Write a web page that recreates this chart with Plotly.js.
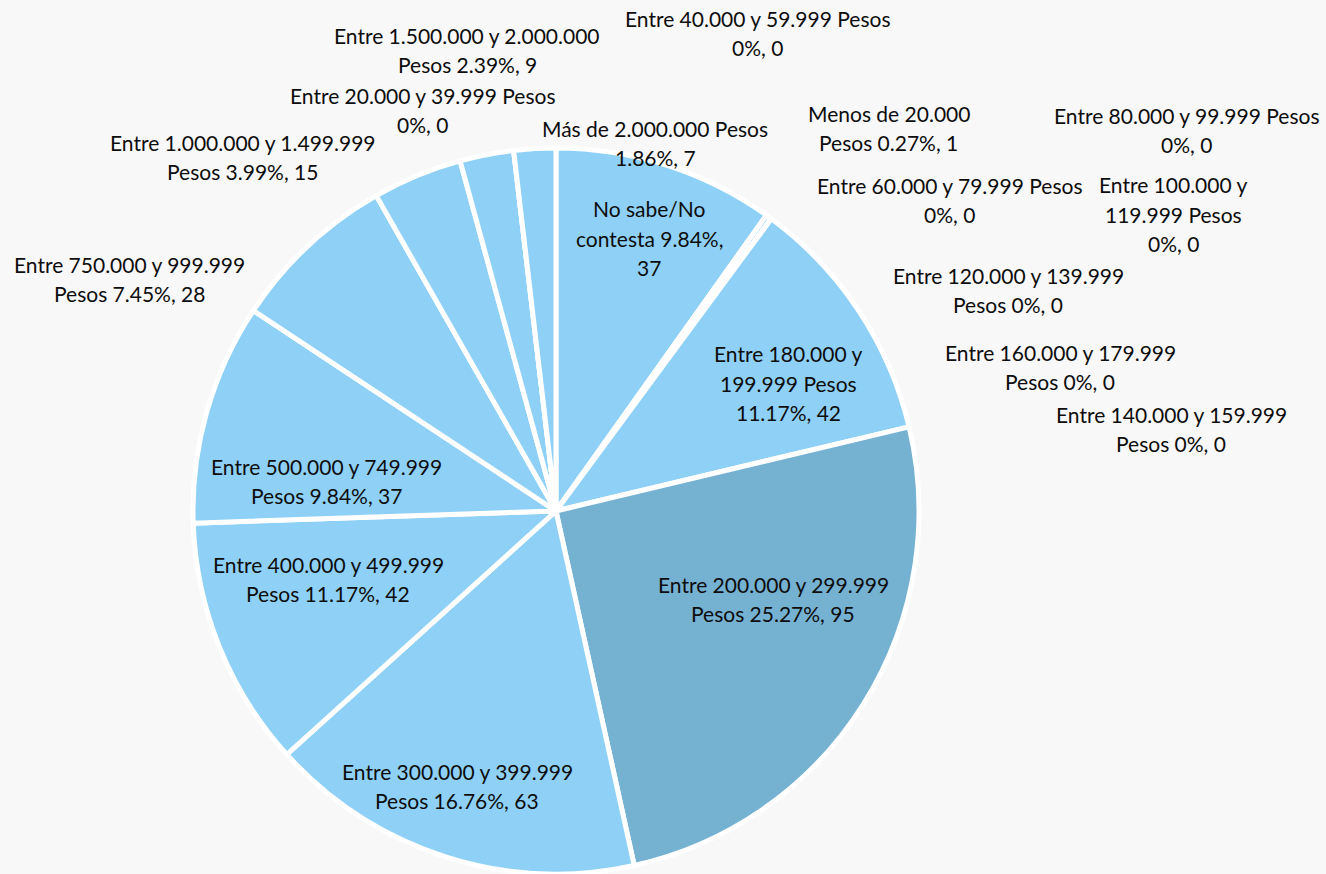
<!DOCTYPE html>
<html>
<head>
<meta charset="utf-8">
<script src="https://cdn.plot.ly/plotly-3.0.1.min.js"></script>
<style>
html,body{margin:0;padding:0;background:#f8f8f8;}
#chart{width:1326px;height:874px;}
</style>
</head>
<body>
<div id="chart"></div>
<script>
// ---- data (clockwise from 12 o'clock) ----
const categories = [
  "No sabe/No contesta",
  "Menos de 20.000 Pesos",
  "Entre 40.000 y 59.999 Pesos",
  "Entre 60.000 y 79.999 Pesos",
  "Entre 80.000 y 99.999 Pesos",
  "Entre 100.000 y 119.999 Pesos",
  "Entre 120.000 y 139.999 Pesos",
  "Entre 140.000 y 159.999 Pesos",
  "Entre 160.000 y 179.999 Pesos",
  "Entre 180.000 y 199.999 Pesos",
  "Entre 200.000 y 299.999 Pesos",
  "Entre 300.000 y 399.999 Pesos",
  "Entre 400.000 y 499.999 Pesos",
  "Entre 500.000 y 749.999 Pesos",
  "Entre 750.000 y 999.999 Pesos",
  "Entre 1.000.000 y 1.499.999 Pesos",
  "Entre 1.500.000 y 2.000.000 Pesos",
  "Entre 20.000 y 39.999 Pesos",
  "Más de 2.000.000 Pesos"
];
const values = [37, 1, 0, 0, 0, 0, 0, 0, 0, 42, 95, 63, 42, 37, 28, 15, 9, 0, 7];
const highlighted = "Entre 200.000 y 299.999 Pesos";

// ---- label placement (pixel centre x, y, wrap width in characters) ----
const labelPlacement = [
  [649, 238, 15],
  [889, 128, 15],
  [757, 33, 27],
  [949, 200, 27],
  [1186, 130, 27],
  [1173, 214, 15],
  [1008, 290, 23],
  [1171, 429, 23],
  [1060, 367, 23],
  [788, 383, 15],
  [773, 599, 23],
  [457, 786, 23],
  [328, 579, 23],
  [326, 481, 23],
  [129, 279, 23],
  [243, 157, 27],
  [467, 50, 27],
  [422, 110, 27],
  [655, 143, 22]
];

const W = 1326, H = 874;
const LINE = 29.5;
const total = values.reduce((a, b) => a + b, 0);

function pctText(v) {
  if (v === 0) return "0%";
  return (v / total * 100).toFixed(2) + "%";
}
function wrap(text, maxChars) {
  const words = text.split(" ");
  const lines = [];
  let cur = "";
  words.forEach(w => {
    if (cur === "") cur = w;
    else if ((cur + " " + w).length <= maxChars) cur += " " + w;
    else { lines.push(cur); cur = w; }
  });
  if (cur) lines.push(cur);
  return lines;
}

const lightBlue = "#8fd1f6";
const darkBlue = "#75b1d1";
const colors = categories.map(c => c === highlighted ? darkBlue : lightBlue);

const annotations = [];
categories.forEach((c, i) => {
  const p = labelPlacement[i];
  const full = c + " " + pctText(values[i]) + ", " + values[i];
  const lines = wrap(full, p[2]);
  lines.forEach((ln, k) => {
    const py = p[1] + (k - (lines.length - 1) / 2) * LINE;
    annotations.push({
      text: ln,
      x: p[0] / W, y: 1 - py / H,
      xref: "paper", yref: "paper",
      xanchor: "center", yanchor: "middle",
      showarrow: false,
      font: {family: "Lato, 'Open Sans', sans-serif", size: 21, color: "#0d0d0d"}
    });
  });
});

const cx = 556, r = 363;
const trace = {
  type: "pie",
  labels: categories,
  values: values,
  sort: false,
  direction: "clockwise",
  rotation: 0,
  textinfo: "none",
  hoverinfo: "label+value+percent",
  marker: {colors: colors, line: {color: "#ffffff", width: 5}},
  domain: {x: [(cx - r) / W, (cx + r) / W], y: [0, 1 - 148 / H]},
  showlegend: false
};

const layout = {
  width: W, height: H,
  margin: {l: 0, r: 0, t: 0, b: 0},
  paper_bgcolor: "#f8f8f8",
  plot_bgcolor: "#f8f8f8",
  showlegend: false,
  annotations: annotations
};

Plotly.newPlot("chart", [trace], layout, {displayModeBar: false, staticPlot: true});
</script>
</body>
</html>
